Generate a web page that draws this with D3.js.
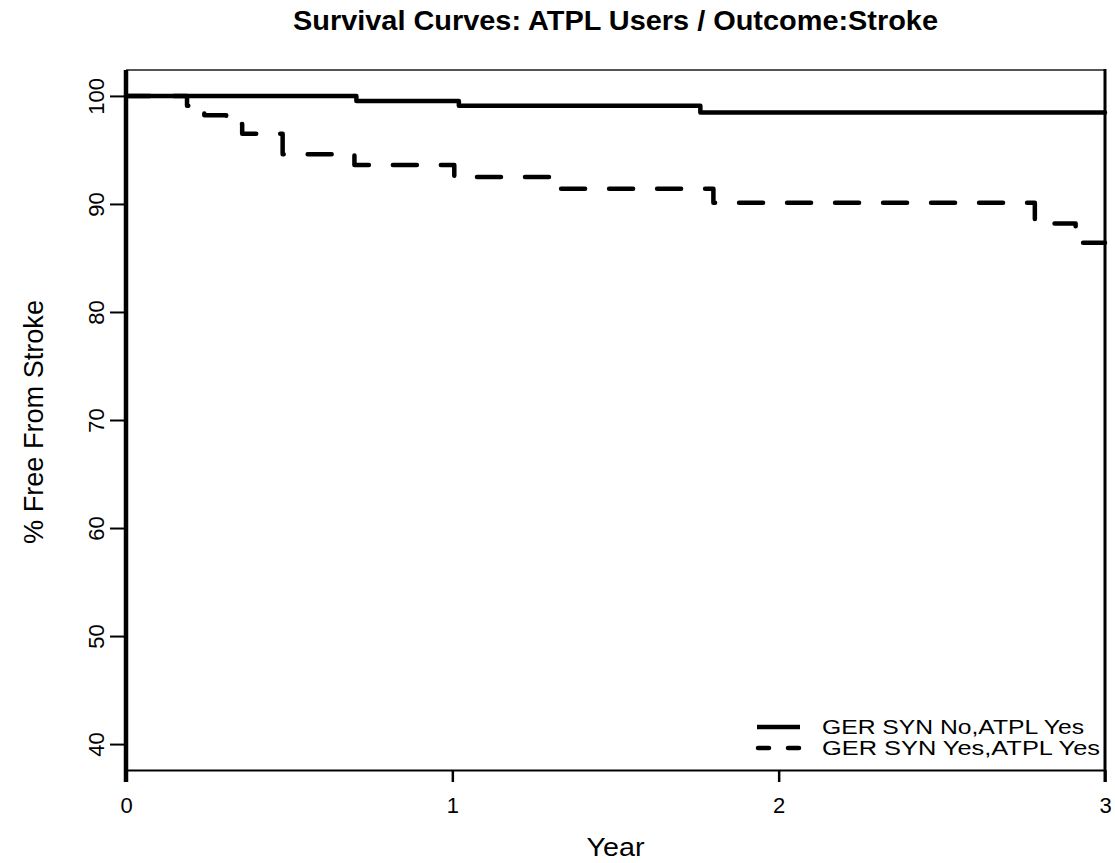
<!DOCTYPE html>
<html>
<head>
<meta charset="utf-8">
<script src="https://cdn.jsdelivr.net/npm/d3@7"></script>
<style>
  html, body { margin: 0; padding: 0; background: #fff; }
  svg { display: block; font-family: "Liberation Sans", Arial, sans-serif; }
</style>
</head>
<body>
<svg id="chart" width="1115" height="863"></svg>
<script>
// ---- data ----
const titleText = "Survival Curves: ATPL Users / Outcome:Stroke";
const xLabel = "Year";
const yLabel = "% Free From Stroke";
const xTicks = [0, 1, 2, 3];
const yTicks = [40, 50, 60, 70, 80, 90, 100];
const seriesNames = ["GER SYN No,ATPL Yes", "GER SYN Yes,ATPL Yes"];
// Kaplan-Meier step curves (time in years, % free from stroke)
const solidTimes  = [0, 0.706, 1.02, 1.76, 3];
const solidValues = [100, 99.54, 99.08, 98.46, 98.46];
const dashedTimes  = [0, 0.187, 0.24, 0.307, 0.356, 0.48, 0.70, 1.006, 1.33, 1.80, 2.785, 2.91, 3];
const dashedValues = [100, 99.1, 98.2, 97.4, 96.5, 94.6, 93.6, 92.5, 91.4, 90.1, 88.2, 86.4, 86.4];

// ---- layout ----
const svg = d3.select("#chart");
const L = 126, R = 1105, T = 70, B = 770;
const x = d3.scaleLinear().domain([0, 3]).range([L, R]);
const y = d3.scaleLinear().domain([37.6, 102.4]).range([B, T]);
const FONT = "Liberation Sans, Arial, sans-serif";

// title
svg.append("text")
  .attr("x", (L + R) / 2).attr("y", 30)
  .attr("text-anchor", "middle")
  .attr("font-weight", "bold").attr("font-size", 27)
  .attr("textLength", 645).attr("lengthAdjust", "spacingAndGlyphs")
  .text(titleText);

// top border (thin gray)
svg.append("line").attr("x1", L).attr("x2", R).attr("y1", T).attr("y2", T)
  .attr("stroke", "#555").attr("stroke-width", 2);

// x axis
const xAxis = svg.append("g").attr("transform", `translate(0,${B})`)
  .call(d3.axisBottom(x).tickValues(xTicks).tickFormat(d3.format("d")).tickSize(12).tickSizeOuter(0));
xAxis.select(".domain").attr("stroke", "#000").attr("stroke-width", 2);
xAxis.selectAll(".tick line").attr("stroke", "#000").attr("stroke-width", 2.5);
xAxis.selectAll(".tick text").attr("font-size", 22).attr("fill", "#000")
  .attr("font-family", FONT)
  .attr("dy", 0).attr("y", 43);

// y axis
const yAxis = svg.append("g").attr("transform", `translate(${L},0)`)
  .call(d3.axisLeft(y).tickValues(yTicks).tickSize(16).tickSizeOuter(0));
yAxis.select(".domain").remove();
yAxis.selectAll(".tick line").attr("stroke", "#000").attr("stroke-width", 2);
yAxis.selectAll(".tick text").attr("font-size", 22).attr("fill", "#000")
  .attr("font-family", FONT)
  .attr("x", null).attr("dy", null)
  .attr("text-anchor", "middle")
  .attr("transform", "translate(-22,0) rotate(-90)")
  .attr("y", 0);

// left and right plot edges
svg.append("line").attr("x1", L).attr("x2", L).attr("y1", T).attr("y2", B + 12)
  .attr("stroke", "#000").attr("stroke-width", 4.5);
svg.append("line").attr("x1", R).attr("x2", R).attr("y1", T - 1).attr("y2", B + 12)
  .attr("stroke", "#000").attr("stroke-width", 3);

// axis titles
svg.append("text").attr("x", (L + R) / 2).attr("y", 856)
  .attr("text-anchor", "middle").attr("font-size", 26)
  .attr("textLength", 58).attr("lengthAdjust", "spacingAndGlyphs")
  .text(xLabel);
svg.append("text")
  .attr("transform", `translate(43,${(T + B) / 2 + 2}) rotate(-90)`)
  .attr("text-anchor", "middle").attr("font-size", 28)
  .attr("textLength", 244).attr("lengthAdjust", "spacingAndGlyphs")
  .text(yLabel);

// curves
const line = d3.line().x(d => x(d[0])).y(d => y(d[1])).curve(d3.curveStepAfter);
const solidData = solidTimes.map((t, i) => [t, solidValues[i]]);
const dashedData = dashedTimes.map((t, i) => [t, dashedValues[i]]);

svg.append("path").datum(solidData).attr("d", line)
  .attr("fill", "none").attr("stroke", "#000").attr("stroke-width", 4.5)
  .attr("stroke-linejoin", "round").attr("stroke-linecap", "round");
svg.append("path").datum(dashedData).attr("d", line)
  .attr("fill", "none").attr("stroke", "#000").attr("stroke-width", 4.5)
  .attr("stroke-dasharray", "24,24")
  .attr("stroke-linejoin", "round").attr("stroke-linecap", "round");

// legend
const legY = [727, 748];
const legLen = [262, 278];
const leg = svg.append("g");
leg.append("line").attr("x1", 757).attr("x2", 800).attr("y1", legY[0]).attr("y2", legY[0])
  .attr("stroke", "#000").attr("stroke-width", 4.5);
leg.append("line").attr("x1", 758).attr("x2", 800).attr("y1", legY[1]).attr("y2", legY[1])
  .attr("stroke", "#000").attr("stroke-width", 4.5).attr("stroke-linecap", "round")
  .attr("stroke-dasharray", "11,19");
seriesNames.forEach((name, i) => {
  leg.append("text").attr("x", 822).attr("y", legY[i]).attr("dy", "0.36em")
    .attr("font-size", 20)
    .attr("textLength", legLen[i]).attr("lengthAdjust", "spacingAndGlyphs")
    .text(name);
});
</script>
</body>
</html>
